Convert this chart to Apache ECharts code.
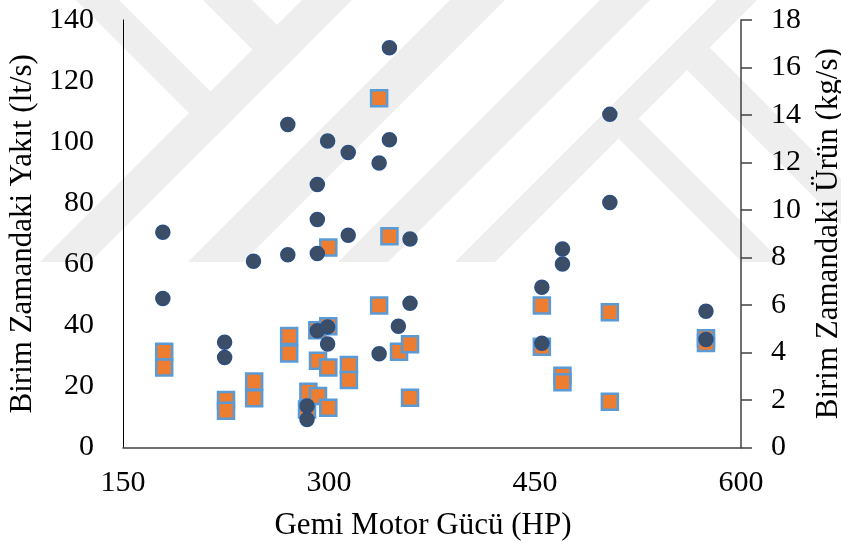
<!DOCTYPE html>
<html>
<head>
    <meta charset="UTF-8"/>
    <script src="https://cdn.jsdelivr.net/npm/echarts@6/dist/echarts.min.js"></script>
    <title>Gemi Motor Gücü</title>
    <style>
        html, body {margin: 0; padding: 0; background: #fff;}
        #main {width: 841px; height: 553px;}
    </style>
</head>
<body>
<div id="main"></div>
<script type="text/javascript">
    // yakıt (sol eksen, lt/s)
    var fuelX = [179, 179, 224, 224, 245, 270, 270, 291.5, 291.5, 291.5, 291.5, 299, 299, 299, 314, 314,
        336.5, 336.5, 344, 344, 350.5, 359, 359, 284, 284, 455, 455, 470, 470, 504.5, 504.5, 574.5, 574.5];
    var fuelY = [70.5, 48.8, 34.5, 29.5, 61, 105.8, 63.1, 86.1, 74.7, 63.5, 38.2, 100.4, 39.5, 33.9, 96.6, 69.5,
        93.2, 30.7, 130.9, 100.8, 39.7, 68.3, 47.2, 13.6, 9.2, 52.5, 34.1, 65, 60.1, 109.1, 80.2, 44.6, 35.4];
    // ürün (sağ eksen, kg/s)
    var prodX = [180, 180, 225, 225, 245.5, 245.5, 271, 271, 285, 284, 292, 292, 291.5, 299.5, 299.5, 299.5, 299.5,
        314.5, 314.5, 336.5, 336.5, 344, 351, 359, 359, 455, 455, 470, 470, 504.5, 504.5, 574.5, 574.5];
    var prodY = [4.03, 3.37, 2.0, 1.55, 2.78, 2.07, 4.69, 3.96, 2.35, 1.6, 3.65, 2.17, 4.94, 8.42, 5.11, 3.37, 1.67,
        3.47, 2.84, 14.71, 5.98, 8.9, 4.03, 4.35, 2.09, 5.98, 4.24, 3.02, 2.75, 5.70, 1.93, 4.6, 4.4];

    var xTicks = [150, 300, 450, 600];
    var leftTicks = [0, 140, 20];
    var rightTicks = [0, 18, 2];

    function pairs(xs, ys) {
        var out = [];
        for (var i = 0; i < xs.length; i++) out.push([xs[i], ys[i]]);
        return out;
    }

    // arka plandaki filigran (gri şeritler)
    var CUT = 262;
    function slash(a, t) {
        return [[a + 60, -60], [a + t + 60, -60], [a + t - CUT, CUT], [a - CUT, CUT]];
    }
    function meet(c, a) {
        return [(a + c) / 2, (a - c) / 2];
    }
    function branchUp(c, t, a) {
        return [[c - 60, -60], [c + t - 60, -60], meet(c + t, a), meet(c, a)];
    }
    function branchDown(c, t, a) {
        return [meet(c, a), meet(c + t, a), [c + t + CUT, CUT], [c + CUT, CUT]];
    }
    var marks = [
        slash(302, 50), branchUp(76, 43, 352), branchUp(203, 49, 352),
        slash(450, 55), slash(600, 50),
        slash(717, 40), branchDown(480, 40, 757), branchDown(617, 45, 757)
    ];
    var graphics = marks.map(function (p) {
        return {type: 'polygon', shape: {points: p}, style: {fill: '#eeeeee'}, silent: true, z: -10};
    });

    var font = 'Liberation Serif';
    var myChart = echarts.init(document.getElementById('main'));
    var option = {
        backgroundColor: '#ffffff',
        animation: false,
        graphic: graphics,
        textStyle: {fontFamily: font},
        grid: {left: 123, right: 100, top: 20, bottom: 105.5, containLabel: false, outerBoundsMode: 'none'},
        xAxis: {
            type: 'value',
            min: xTicks[0], max: xTicks[xTicks.length - 1], interval: 150,
            name: 'Gemi Motor Gücü (HP)',
            nameLocation: 'middle', nameGap: 63,
            nameTextStyle: {fontFamily: font, fontSize: 31, color: '#000', padding: [0, 18, 0, 0]},
            axisLine: {show: true, lineStyle: {color: '#404040', width: 1.5}},
            axisTick: {show: false},
            splitLine: {show: false},
            axisLabel: {fontFamily: font, fontSize: 30, color: '#000', margin: 21}
        },
        yAxis: [
            {
                type: 'value', position: 'left',
                min: leftTicks[0], max: leftTicks[1], interval: leftTicks[2],
                name: 'Birim Zamandaki Yakıt (lt/s)',
                nameLocation: 'middle', nameGap: 82, nameRotate: 90,
                nameTextStyle: {fontFamily: font, fontSize: 31, color: '#000'},
                axisLine: {show: true, lineStyle: {color: '#000', width: 1}},
                axisTick: {show: false},
                splitLine: {show: false},
                axisLabel: {fontFamily: font, fontSize: 30, color: '#000', margin: 29}
            },
            {
                type: 'value', position: 'right',
                min: rightTicks[0], max: rightTicks[1], interval: rightTicks[2],
                name: 'Birim Zamandaki Ürün (kg/s)',
                nameLocation: 'middle', nameGap: 72, nameRotate: 90,
                nameTextStyle: {fontFamily: font, fontSize: 31, color: '#000'},
                axisLine: {show: true, lineStyle: {color: '#404040', width: 1.5}},
                axisTick: {show: true, inside: false, length: 11, lineStyle: {color: '#404040', width: 1.5}},
                splitLine: {show: false},
                axisLabel: {fontFamily: font, fontSize: 30, color: '#000', margin: 30}
            }
        ],
        series: [
            {
                name: 'Ürün', type: 'scatter', yAxisIndex: 1,
                symbol: 'rect', symbolSize: 16,
                itemStyle: {color: '#ed7d31', borderColor: '#5b9bd5', borderWidth: 2.5, opacity: 1},
                data: pairs(prodX, prodY), z: 2
            },
            {
                name: 'Yakıt', type: 'scatter', yAxisIndex: 0,
                symbol: 'circle', symbolSize: 14,
                itemStyle: {color: '#3c4d66', borderColor: '#2c4f80', borderWidth: 1.5, opacity: 1},
                data: pairs(fuelX, fuelY), z: 3
            }
        ]
    };
    myChart.setOption(option);
</script>
</body>
</html>
